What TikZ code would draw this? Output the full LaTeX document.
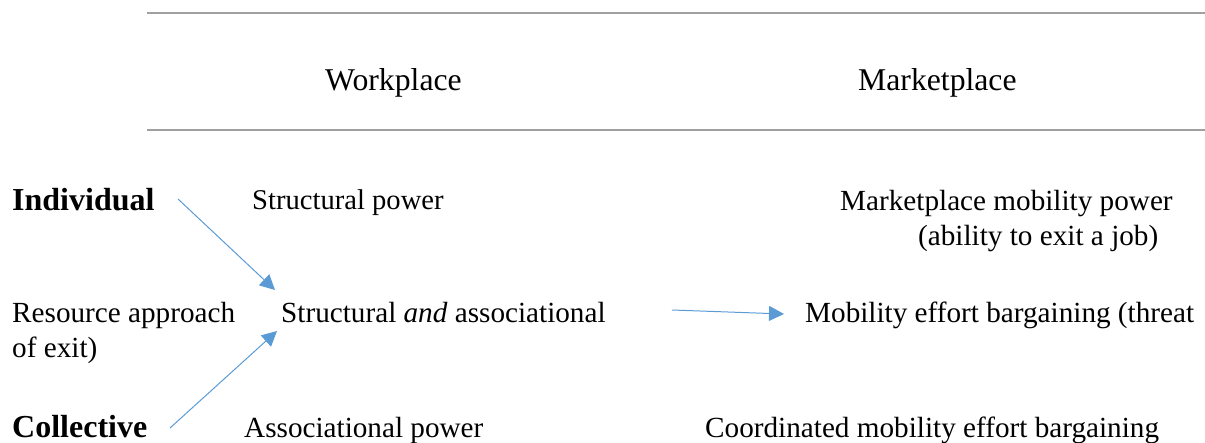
\documentclass[tikz,border=0pt]{standalone}
\usepackage{fontspec}
\setmainfont{Liberation Serif}
\usetikzlibrary{arrows.meta}
\definecolor{arrowblue}{HTML}{5B9BD5}
\definecolor{rulegray}{HTML}{A0A0A0}
\tikzset{
  txt/.style={anchor=base west, inner sep=0pt, font=\fontsize{29.2}{35}\selectfont},
  htxt/.style={txt, font=\fontsize{31.7}{38}\selectfont},
  btxt/.style={txt, font=\fontsize{32}{38}\selectfont\bfseries},
  rule/.style={draw=rulegray, line width=2pt},
  conn/.style={draw=arrowblue, line width=1pt, -{Triangle[length=15pt,width=15pt]}}
}
\begin{document}
\begin{tikzpicture}[x=1pt,y=-1pt]
\useasboundingbox (0,0) rectangle (1205,442);
% rules
\coordinate (r1a) at (147,13); \coordinate (r1b) at (1205,13);
\coordinate (r2a) at (147,130); \coordinate (r2b) at (1205,130);
\draw[rule] (r1a) -- (r1b);
\draw[rule] (r2a) -- (r2b);
% headers
\node[htxt] (work) at (325,90) {Workplace};
\node[htxt] (market) at (858,90) {Marketplace};
% row 1
\node[btxt] (indiv) at (12,210) {Individual};
\node[txt, font=\fontsize{28.6}{35}\selectfont] (struct) at (252,209) {Structural power};
\node[txt] (mmp) at (840,210) {Marketplace mobility power};
\node[txt] (abil) at (918,245) {(ability to exit a job)};
% row 2
\node[txt] (res1) at (12,322) {Resource approach};
\node[txt] (res2) at (12,357) {of exit)};
\node[txt] (sa) at (281,322) {Structural \textit{and} associational};
\node[txt] (meb) at (805,322) {Mobility effort bargaining (threat};
% row 3
\node[btxt] (coll) at (12,437) {Collective};
\node[txt] (assoc) at (244,437) {Associational power};
\node[txt] (cmeb) at (705,437) {Coordinated mobility effort bargaining};
% arrow ends
\coordinate (a1s) at (178,199); \coordinate (a1e) at (275,290);
\coordinate (a2s) at (170,428); \coordinate (a2e) at (277,331);
\coordinate (a3s) at (672,310); \coordinate (a3e) at (784,314);
\draw[conn] (a1s) -- (a1e);
\draw[conn] (a2s) -- (a2e);
\draw[conn] (a3s) -- (a3e);
\end{tikzpicture}
\end{document}
